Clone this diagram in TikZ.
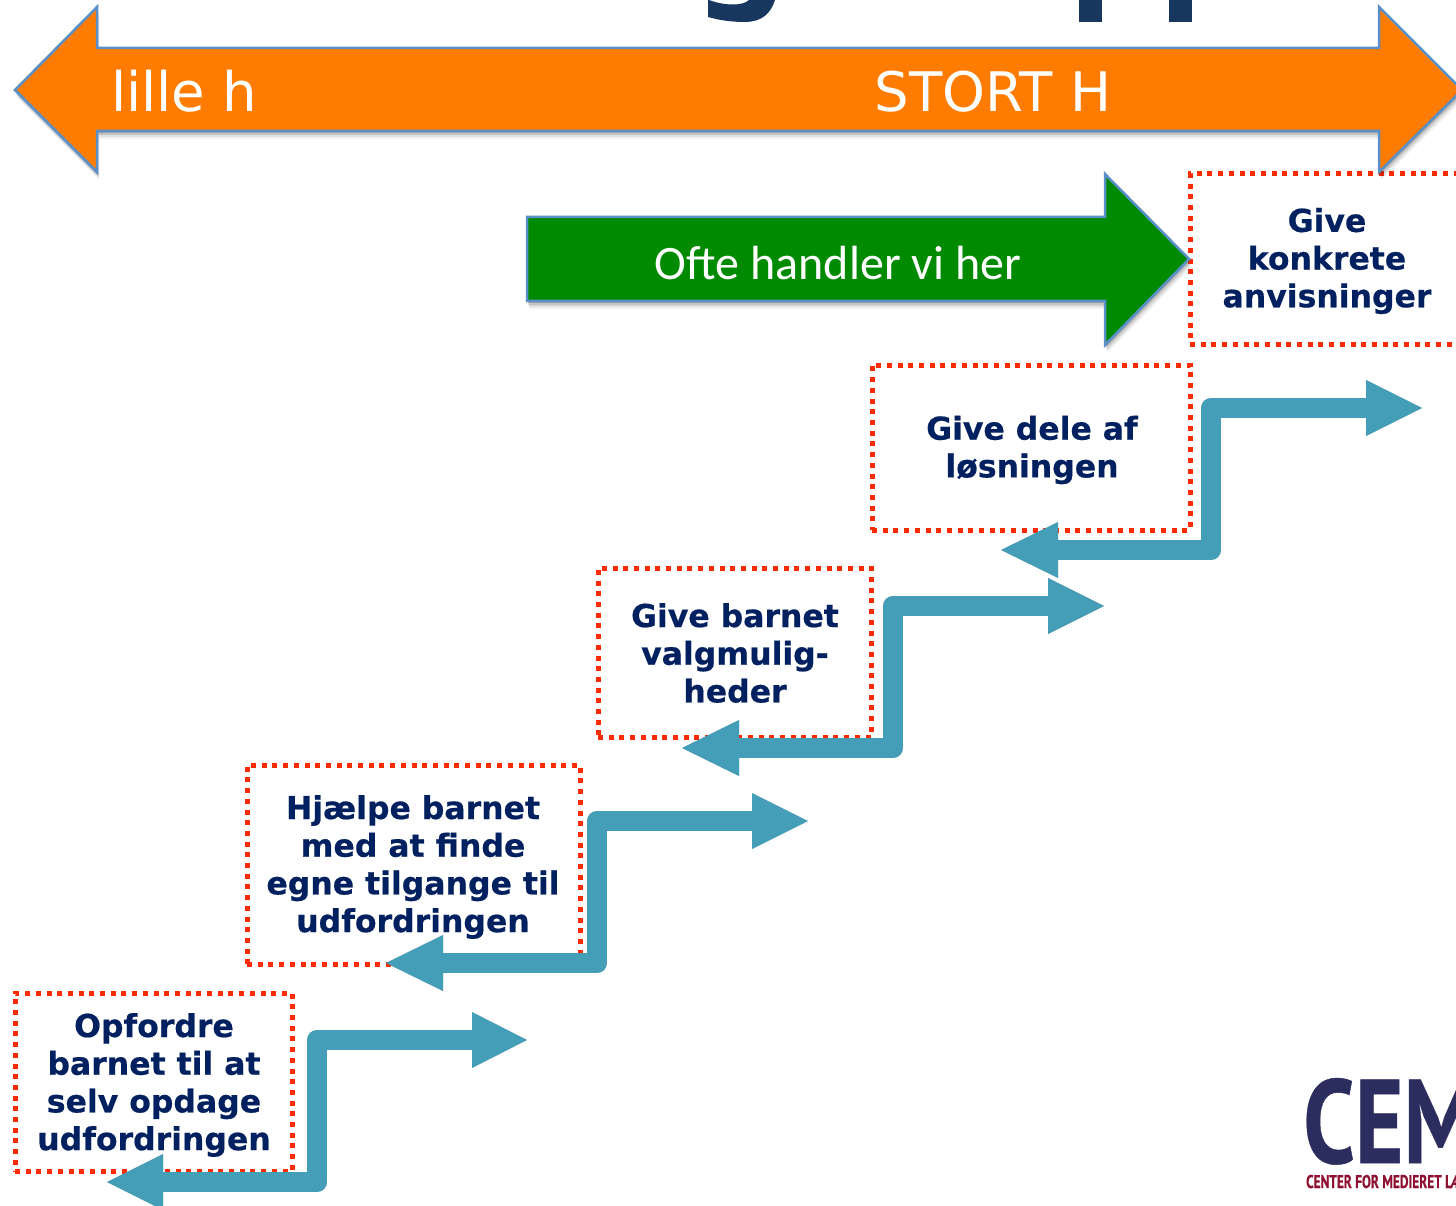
\documentclass[tikz,border=0pt]{standalone}
\usepackage{fontspec}
\setmainfont{Carlito}
\newfontfamily\verd{DejaVu Sans}[BoldFeatures={FakeBold=0.5}]
\newfontfamily\ptlogo{PT Sans}[BoldFeatures={FakeBold=0.4}]
\definecolor{navy}{HTML}{002060}
\definecolor{dotred}{HTML}{FF2A00}
\definecolor{stair}{HTML}{459EB8}
\definecolor{orangeA}{HTML}{FF7C00}
\definecolor{greenA}{HTML}{008A00}
\definecolor{edgeblue}{HTML}{5B8FC8}
\definecolor{titleblue}{HTML}{17375E}
\definecolor{logoblue}{HTML}{2B2D5E}
\definecolor{logored}{HTML}{8E1230}
\tikzset{
  dotbox/.style={draw=dotred,line width=5pt,dash pattern=on 5pt off 5.7pt,fill=white,inner sep=0pt,outer sep=0pt,anchor=north west},
  boxtext/.style={font=\verd\bfseries\fontsize{31.5}{37.7}\selectfont,text=navy,align=center,inner sep=0pt},
  bigtext/.style={text=white,inner sep=0pt,font=\verd\fontsize{54.5}{60}\selectfont},
}
% name, left tip x, left base x, bottom y, vertical x, top y, right base x, right tip x
\newcommand{\stairarrow}[8]{
  \coordinate (#1tipL) at (#2,#4);
  \coordinate (#1baseL) at (#3,#4);
  \coordinate (#1low) at (#5,#4);
  \coordinate (#1high) at (#5,#6);
  \coordinate (#1baseR) at (#7,#6);
  \coordinate (#1tipR) at (#8,#6);
  \foreach \s/\o in {1.5/0.14,3/0.08}{
    \begin{scope}[xshift=\s pt,yshift=-\s pt,opacity=\o]
      \draw[black,line width=20pt,line join=round] (#1baseL) -- (#1low) -- (#1high) -- (#1baseR);
      \fill[black] (#1tipL) -- ([yshift=28pt]#1baseL) -- ([yshift=-28pt]#1baseL) -- cycle;
      \fill[black] (#1tipR) -- ([yshift=28pt]#1baseR) -- ([yshift=-28pt]#1baseR) -- cycle;
    \end{scope}
  }
  \draw[stair,line width=20pt,line join=round] (#1baseL) -- (#1low) -- (#1high) -- (#1baseR);
  \fill[stair] (#1tipL) -- ([yshift=28pt]#1baseL) -- ([yshift=-28pt]#1baseL) -- cycle;
  \fill[stair] (#1tipR) -- ([yshift=28pt]#1baseR) -- ([yshift=-28pt]#1baseR) -- cycle;
}
\begin{document}
\begin{tikzpicture}[x=1pt,y=-1pt]
\useasboundingbox (0,0) rectangle (1456,1206);
\clip (0,0) rectangle (1456,1206);
\fill[white] (0,0) rectangle (1456,1206);

% title remnants
\fill[titleblue] (708,0) -- (708,17) .. controls (722,21) and (735,22) .. (745,22) .. controls (762,22) and (771,13) .. (775,0) -- (749,0) .. controls (743,6) and (725,6) .. (709,0) -- cycle;
\fill[titleblue] (1079,0) rectangle (1102,22);
\fill[titleblue] (1169,0) rectangle (1192,22);

% dotted boxes
\node[dotbox,minimum width=277pt,minimum height=178pt] (b1) at (15,993) {};
\node[dotbox,minimum width=333pt,minimum height=199pt] (b2) at (247,765) {};
\node[dotbox,minimum width=273pt,minimum height=169pt] (b3) at (598,568) {};
\node[dotbox,minimum width=318pt,minimum height=165pt] (b4) at (872,365) {};
\node[dotbox,minimum width=290pt,minimum height=170pt] (b5) at (1190,174) {};

% block shadows
\foreach \s/\o in {2/0.16,4/0.12,6/0.08,8/0.05}{
  \begin{scope}[yshift=-\s pt,xshift=0.3*\s pt,opacity=\o]
    \fill[black] (15,90) -- (97,7) -- (97,48) -- (1379,48) -- (1379,7) -- (1462,90) -- (1379,172) -- (1379,131) -- (97,131) -- (97,172) -- cycle;
    \fill[black] (527,217) -- (1105,217) -- (1105,174) -- (1189,259) -- (1105,345) -- (1105,301) -- (527,301) -- cycle;
  \end{scope}
}

% orange double arrow
\draw[draw=edgeblue,line width=2.5pt,fill=orangeA,line join=miter] (15,90) -- (97,7) -- (97,48) -- (1379,48) -- (1379,7) -- (1462,90) -- (1379,172) -- (1379,131) -- (97,131) -- (97,172) -- cycle;
\node[bigtext] (lille) at (184,91) {lille h};
\node[bigtext] (stort) at (993,92) {STORT H};

% green arrow
\draw[draw=edgeblue,line width=2.5pt,fill=greenA] (527,217) -- (1105,217) -- (1105,174) -- (1189,259) -- (1105,345) -- (1105,301) -- (527,301) -- cycle;
\node[text=white,inner sep=0pt,font=\fontsize{48}{50}\selectfont] (ofte) at (838,263) {Ofte handler vi her};

% box texts
\node[boxtext] (t1) at (154,1085) {Opfordre\\barnet til at\\selv opdage\\udfordringen};
\node[boxtext] (t2) at (413,867) {Hjælpe barnet\\med at finde\\egne tilgange til\\udfordringen};
\node[boxtext] (t3) at (735,653) {Give barnet\\valgmulig-\\heder};
\node[boxtext] (t4) at (1032,450) {Give dele af\\løsningen};
\node[boxtext] (t5) at (1327,261) {Give\\konkrete\\anvisninger};

% stair arrows
\stairarrow{sa}{107}{163}{1182}{317}{1040}{472}{527}
\stairarrow{sb}{386}{443}{963}{597}{821}{752}{808}
\stairarrow{sc}{682}{739}{748}{893}{606}{1048}{1104}
\stairarrow{sd}{1001}{1058}{550}{1211}{408}{1366}{1422}

% logo
\node[anchor=base west,inner sep=0pt,text=logoblue,font=\ptlogo\bfseries\fontsize{119}{120}\selectfont,xscale=0.78] (cem) at (1303,1163) {CEM};
\node[anchor=base west,inner sep=0pt,text=logored,font=\ptlogo\bfseries\fontsize{18.5}{20}\selectfont,xscale=0.72] (cemsub) at (1306,1188) {CENTER FOR MEDIERET LÆ};
\end{tikzpicture}
\end{document}
